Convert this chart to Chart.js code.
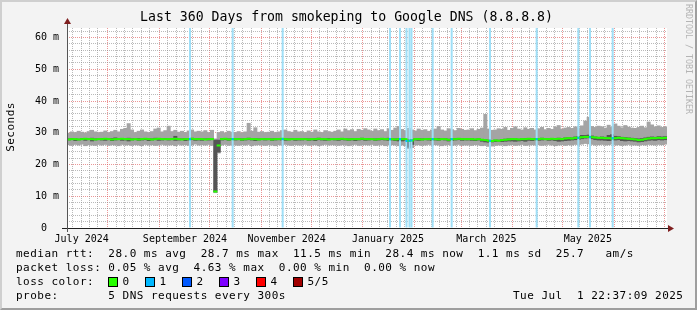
<!DOCTYPE html>
<html><head><meta charset="utf-8">
<script src="https://cdn.jsdelivr.net/npm/chart.js@4/dist/chart.umd.min.js"></script>
<style>
html,body{margin:0;padding:0;background:#f3f3f3;}
#wrap{position:relative;width:697px;height:310px;overflow:hidden;background:#f3f3f3;font-family:"DejaVu Sans Mono",monospace;color:#000;}
#c{position:absolute;left:0;top:0;}
#frame{position:absolute;left:0;top:0;width:697px;height:310px;box-sizing:border-box;border-top:2px solid #cfcfcf;border-left:2px solid #cfcfcf;border-right:2px solid #9e9e9e;border-bottom:2px solid #9e9e9e;pointer-events:none;}
.t{position:absolute;white-space:pre;font-size:11px;letter-spacing:0.48px;line-height:14px;}
#title{position:absolute;left:-2px;width:697px;top:9px;text-align:center;font-size:13.2px;white-space:pre;}
#ylab{position:absolute;left:-14px;top:120px;width:50px;text-align:center;transform:rotate(-90deg);transform-origin:50% 50%;}
#wm{position:absolute;left:684px;top:4px;writing-mode:vertical-rl;font-size:8.3px;color:#b4b4b4;white-space:pre;}
.sw{position:absolute;width:8px;height:8px;border:1px solid #000;box-sizing:content-box;}
</style></head>
<body>
<div id="wrap">
<canvas id="c" width="697" height="310"></canvas>
<div id="title">Last 360 Days from smokeping to Google DNS (8.8.8.8)</div>
<div id="ylab" class="t">Seconds</div>
<div id="wm">RRDTOOL / TOBI OETIKER</div>
<div class="t" style="left:16px;top:247px;">median rtt:  28.0 ms avg  28.7 ms max  11.5 ms min  28.4 ms now  1.1 ms sd  25.7   am/s</div>
<div class="t" style="left:16px;top:261px;">packet loss: 0.05 % avg  4.63 % max  0.00 % min  0.00 % now</div>
<div class="t" style="left:16px;top:275px;">loss color:</div>
<div id="lossLegend"></div>
<div class="t" style="left:16px;top:289px;">probe:       5 DNS requests every 300s</div>
<div class="t" style="left:513px;top:289px;">Tue Jul  1 22:37:09 2025</div>
<div id="frame"></div>
</div>
<script>
// ---- data ----
const STEP_DAYS = 2; // each sample covers two days, first sample starts at day 0
const median = [
27.9,28.0,28.0,27.9,28.0,28.1,28.0,28.0,27.9,28.0,
28.0,28.1,28.0,27.9,28.0,28.0,28.1,28.0,28.0,27.9,
28.0,27.9,28.0,28.1,28.0,27.9,28.0,28.1,28.0,28.0,
28.0,28.0,28.1,28.0,27.9,28.0,28.0,28.1,28.0,28.0,
28.0,27.9,28.0,28.0,11.5,26.0,28.0,28.1,27.9,28.0,
28.0,28.0,27.9,28.0,28.1,28.0,28.0,27.9,28.0,28.0,
28.0,27.9,28.0,28.0,28.1,28.0,27.9,28.0,28.0,28.0,
28.0,28.0,27.9,28.0,28.0,28.1,28.0,28.0,27.9,28.0,
28.0,28.0,28.1,28.0,27.9,28.0,28.0,28.0,28.1,28.0,
28.0,28.0,27.9,28.0,28.1,28.0,28.0,28.0,27.9,28.0,
28.0,28.0,27.5,27.6,28.0,28.0,27.9,28.0,28.0,28.0,
28.0,27.9,28.0,28.0,27.8,28.0,28.0,28.1,28.0,28.0,
28.0,28.0,27.9,28.0,27.8,27.7,27.5,27.4,27.6,27.5,
27.7,27.8,27.9,28.0,28.0,27.9,28.0,28.0,28.1,28.0,
28.0,28.0,28.1,28.0,28.0,28.1,28.0,28.1,28.0,28.2,
28.3,28.2,28.4,28.4,28.6,28.7,28.7,28.6,28.5,28.4,
28.4,28.3,28.3,28.2,28.3,28.4,28.3,28.2,28.1,28.0,
27.9,27.7,27.8,28.0,28.2,28.3,28.3,28.4,28.3,28.4];
const pingMax = [
30.0,30.4,30.2,30.6,30.3,30.1,30.5,30.9,30.4,30.2,
30.3,30.7,30.2,30.5,30.9,30.4,31.2,31.5,33.0,31.0,
30.2,30.6,31.0,30.4,30.2,30.5,31.3,31.6,30.4,30.8,
32.2,30.5,30.9,30.3,30.6,30.2,30.7,31.0,30.4,30.6,
30.4,30.8,30.2,30.9,28.2,30.2,30.5,30.1,30.6,30.3,
30.2,30.5,30.1,30.4,33.1,30.6,31.7,30.3,30.5,30.2,
30.3,30.6,30.2,30.4,30.8,31.0,30.5,30.3,30.9,30.4,
30.5,30.2,30.7,30.3,31.0,30.4,30.2,30.8,30.5,30.3,
30.6,31.0,30.4,31.3,30.8,31.1,30.5,31.2,30.9,31.4,
31.0,30.6,31.3,30.8,31.1,30.5,31.4,30.9,31.6,32.1,
31.2,30.8,31.5,31.0,30.7,31.3,30.9,31.1,30.6,31.0,
31.3,32.1,31.0,30.7,31.4,31.1,30.8,31.5,31.2,30.9,
31.0,31.4,30.8,31.2,31.6,35.9,31.3,30.9,31.0,31.4,
31.2,31.8,30.9,31.5,32.0,31.3,31.0,31.7,31.2,31.5,
31.0,31.4,31.8,31.1,31.5,31.2,31.9,32.4,31.3,31.6,
31.8,31.5,32.0,31.7,32.3,33.8,35.0,32.1,31.8,32.2,
32.0,31.6,32.5,31.8,32.9,32.2,31.7,32.4,31.9,31.6,
31.5,31.8,32.2,31.7,33.5,32.6,32.0,32.3,31.8,32.0];
const pingMin = [
26.1,25.9,26.2,26.0,26.3,25.8,26.1,26.0,25.9,26.2,
26.0,26.2,25.9,26.1,26.0,25.8,26.2,26.0,26.1,25.9,
26.1,26.0,25.8,26.2,26.0,26.1,25.9,26.0,26.2,26.0,
26.0,26.1,25.8,26.2,26.0,26.1,25.9,26.0,26.3,26.0,
26.1,26.0,26.2,25.9,11.0,23.5,26.0,26.2,25.9,26.1,
26.0,25.9,26.1,26.0,26.2,25.8,26.0,26.1,26.0,25.9,
26.1,26.0,25.8,26.1,26.0,26.2,26.0,25.9,26.1,26.0,
26.0,26.2,25.9,26.0,26.1,25.8,26.0,26.2,26.0,26.1,
26.0,25.9,26.1,26.0,25.8,26.0,26.2,25.9,26.0,26.1,
26.0,26.2,25.9,26.0,26.1,25.8,26.0,26.1,26.0,25.8,
26.0,25.8,24.9,25.2,26.0,26.1,25.9,26.0,26.2,26.0,
26.1,26.0,25.8,26.0,26.1,25.9,26.0,26.2,25.9,26.0,
26.0,25.9,26.1,26.0,25.8,25.9,25.6,25.7,25.9,26.0,
26.0,25.8,26.0,26.1,25.9,26.0,26.2,25.9,26.0,26.1,
26.0,26.1,25.9,26.0,26.2,26.0,25.8,26.0,26.1,25.9,
26.1,26.0,26.2,26.1,26.3,26.5,26.4,26.2,26.0,26.1,
26.2,26.0,26.1,26.3,26.0,26.1,25.9,26.0,26.2,26.0,
26.0,25.9,26.1,26.0,26.2,26.1,26.0,26.2,26.1,26.3];
const pingLow = [
27.6,27.7,27.4,27.6,27.7,27.5,27.7,27.3,27.6,27.7,
27.6,27.5,27.7,27.4,27.6,27.7,27.5,27.6,27.3,27.6,
27.7,27.5,27.6,27.7,27.4,27.6,27.7,27.5,27.6,27.7,
27.6,27.7,27.5,27.6,27.7,27.4,27.6,27.7,27.5,27.6,
27.5,27.7,27.6,27.7,11.3,23.8,27.6,27.7,27.5,27.7,
27.6,27.7,27.5,27.6,27.7,27.6,27.4,27.6,27.7,27.6,
27.7,27.5,27.6,27.7,27.6,27.5,27.6,27.7,27.5,27.6,
27.6,27.7,27.5,27.6,27.4,27.7,27.6,27.5,27.6,27.7,
27.6,27.5,27.7,27.6,27.5,27.6,27.4,27.6,27.7,27.5,
27.6,27.7,27.5,27.6,27.7,27.6,27.5,27.6,27.4,27.3,
27.3,27.5,25.3,26.2,27.6,27.5,27.6,27.7,27.6,27.5,
27.6,27.5,27.7,27.6,27.3,27.5,27.6,27.7,27.5,27.6,
27.6,27.5,27.4,27.6,27.2,27.0,26.9,27.0,27.1,27.2,
27.1,27.2,27.3,27.3,27.2,27.3,27.4,27.2,27.5,27.4,
27.6,27.5,27.6,27.7,27.5,27.6,27.4,27.2,27.3,27.4,
27.5,27.6,27.7,27.8,28.0,28.2,28.3,28.0,27.7,27.6,
27.6,27.5,27.4,27.5,27.6,27.7,27.4,27.3,27.4,27.3,
27.2,27.0,27.1,27.3,27.5,27.6,27.5,27.7,27.6,27.7];
const pingHigh = [
28.2,28.3,28.2,28.1,28.3,28.3,28.2,28.4,28.2,28.2,
28.3,28.2,28.2,28.3,28.5,28.2,28.3,28.2,28.4,28.2,
28.2,28.3,28.2,28.3,28.2,28.2,28.4,28.3,28.2,28.3,
28.2,28.3,29.0,28.2,28.2,28.3,28.2,28.4,28.2,28.3,
28.2,28.2,28.3,28.2,27.8,27.8,28.3,28.2,28.2,28.3,
28.2,28.3,28.2,28.2,28.4,28.2,28.3,28.2,28.2,28.3,
28.2,28.2,28.3,28.2,28.3,28.2,28.2,28.3,28.2,28.2,
28.2,28.3,28.2,28.2,28.3,28.4,28.2,28.2,28.3,28.2,
28.2,28.3,28.3,28.2,28.2,28.3,28.2,28.2,28.4,28.2,
28.3,28.2,28.2,28.3,28.2,28.2,28.4,28.2,28.2,28.3,
28.2,28.3,28.1,28.0,28.2,28.3,28.2,28.2,28.3,28.2,
28.2,28.3,28.2,28.3,28.1,28.2,28.3,28.3,28.2,28.2,
28.2,28.2,28.1,28.2,28.0,27.9,27.8,27.7,27.8,27.8,
28.0,28.1,28.2,28.2,28.2,28.1,28.2,28.3,28.3,28.2,
28.3,28.2,28.4,28.2,28.2,28.3,28.3,28.4,28.3,28.5,
28.6,28.5,28.8,29.0,29.3,29.3,29.4,29.1,28.8,28.7,
28.8,28.7,29.3,29.5,29.0,28.9,28.7,28.6,28.5,28.4,
28.3,28.2,28.3,28.5,28.7,28.8,28.7,28.9,28.8,28.9];
// days (since graph start) with packet loss, their loss level and median there
const lossDays   = [73.8, 99.4, 129.4, 193.8, 199.8, 203.7, 205.5, 206.7, 219.4, 230.8, 253.8, 281.8, 306.8, 313.8, 327.4];
const lossLevel  = [1,1,1,1,1,1,1,1,1,1,1,1,1,1,1];
const lossMedian = [28.0, 28.0, 28.0, 28.0, 28.0, 27.4, 27.5, 27.6, 28.0, 28.0, 27.5, 28.0, 28.4, 28.6, 28.3];
// axis ticks
const monthLabels = ['July 2024','September 2024','November 2024','January 2025','March 2025','May 2025'];
const labelDays   = [8.8, 70.8, 131.8, 192.6, 251.6, 312.5];
const monthStartDays = [24.4, 55.4, 85.4, 116.4, 146.4, 177.4, 208.4, 236.4, 267.4, 297.4, 328.4, 358.4];
const yTicks  = [0,10,20,30,40,50,60];
const yLabels = ['0  ','10 m','20 m','30 m','40 m','50 m','60 m'];
const lossNames  = ['0','1','2','3','4','5/5'];
const lossColors = ['#26ff00','#00b8ff','#0059ff','#7e00ff','#ff0000','#a10000'];
const lossBgColors = ['#c8ffc0','#9fdff7','#99bcff','#cba6ff','#ff9a9a','#dc9a9a'];

// ---- build ----
const X_MAX = 360, Y_MAX = 63;
const LINE_HALF = 0.32;
const center = i => i*STEP_DAYS + STEP_DAYS/2;
const outer = pingMin.map((v,i)=>({x:center(i), y:[v, pingMax[i]]}));
const inner = pingLow.map((v,i)=>({x:center(i), y:[v, pingHigh[i]]}));
const med   = median.map((v,i)=>({x:center(i), y:[v-LINE_HALF, v+LINE_HALF]}));
const lossBg = lossDays.map(d=>({x:d, y:[0, Y_MAX]}));
const lossMk = lossDays.map((d,i)=>({x:d, y:[lossMedian[i]-LINE_HALF, lossMedian[i]+LINE_HALF]}));
const minorDays = [];
monthStartDays.concat([-6.6]).forEach(m=>{ for(let k=1;k<=5;k++){ const d=m+5*k; if(d>0&&d<X_MAX) minorDays.push(d);} });
const yMinorTicks = [];
for (let v=2; v<Y_MAX; v+=2) if (v%10) yMinorTicks.push(v);

const monoFont = {family:'DejaVu Sans Mono', size:10};
const gridScale = (pos, ticks, color) => ({
  type:'linear', min:0, max: pos==='bottom'?X_MAX:Y_MAX, position:pos, offset:false,
  afterBuildTicks: s => { s.ticks = ticks.map(v=>({value:v})); },
  ticks:{display:false},
  grid:{color, lineWidth:1, drawTicks:false, offset:false},
  border:{display:false, dash:[1,1]},
  afterFit: s => { if(pos==='bottom') s.height=0; else s.width=0; }
});

const decor = {
  id:'decor',
  beforeDraw(chart){
    const {ctx, chartArea:a} = chart;
    ctx.save();
    ctx.fillStyle='#f3f3f3'; ctx.fillRect(0,0,chart.width,chart.height);
    ctx.fillStyle='#ffffff'; ctx.fillRect(a.left,a.top,a.right-a.left,a.bottom-a.top);
    ctx.restore();
  },
  afterDraw(chart){
    const {ctx, chartArea:a} = chart;
    const y0 = Math.round(chart.scales.y.getPixelForValue(0));
    const x0 = Math.round(a.left);
    ctx.save();
    ctx.fillStyle='#1f1f1f';
    ctx.fillRect(x0-5, y0, a.right - x0 + 7, 1);
    ctx.fillStyle='#555555';
    ctx.fillRect(x0, a.top-4, 1, y0 - a.top + 8);
    ctx.fillStyle='#7f1f1f';
    ctx.beginPath(); ctx.moveTo(a.right+1, y0-3); ctx.lineTo(a.right+7, y0+0.5); ctx.lineTo(a.right+1, y0+4); ctx.closePath(); ctx.fill();
    ctx.beginPath(); ctx.moveTo(x0-3, a.top-4); ctx.lineTo(x0+0.5, a.top-10); ctx.lineTo(x0+4, a.top-4); ctx.closePath(); ctx.fill();
    ctx.restore();
  }
};

const ds = (label, data, color, thick, order) => ({label, data, backgroundColor:color, barThickness:thick, grouped:false, order, xAxisID:'x', yAxisID:'y', borderWidth:0, inflateAmount:0});

new Chart(document.getElementById('c'), {
  type:'bar',
  data:{datasets:[
    ds('loss marker', lossMk, lossLevel.map(l=>lossColors[l]), 2, 1),
    ds('median rtt', med, lossColors[0], 4, 2),
    ds('loss', lossBg, lossLevel.map(l=>lossBgColors[l]), 2, 3),
    ds('smoke inner', inner, '#555555', 4, 4),
    ds('smoke outer', outer, '#a4a4a4', 4, 5)
  ]},
  options:{
    responsive:false, animation:false, devicePixelRatio:1,
    layout:{padding:{left:0, top:28, right:30, bottom:62}},
    plugins:{legend:{display:false}, tooltip:{enabled:false}, title:{display:false}},
    scales:{
      x:{type:'linear', min:0, max:X_MAX, position:'bottom', offset:false,
         afterBuildTicks: s => { s.ticks = labelDays.map(v=>({value:v})); },
         ticks:{autoSkip:false, maxRotation:0, padding:5, font:monoFont, color:'#000', callback:(v,i)=>monthLabels[i]},
         grid:{display:false, drawTicks:false, offset:false}, border:{display:false},
         afterFit: s => { s.height = 20; }},
      y:{type:'linear', min:0, max:Y_MAX, position:'left',
         afterBuildTicks: s => { s.ticks = yTicks.map(v=>({value:v})); },
         ticks:{padding:8, font:monoFont, color:'#000', callback:(v,i)=>yLabels[i]},
         grid:{color:'rgba(222,79,79,0.6)', drawTicks:false}, border:{display:false, dash:[1,1]},
         afterFit: s => { s.width = 67; }},
      xMinor: gridScale('bottom', minorDays, 'rgba(140,140,140,0.6)'),
      xMajor: gridScale('bottom', monthStartDays, 'rgba(222,79,79,0.6)'),
      yMinor: gridScale('left', yMinorTicks, 'rgba(140,140,140,0.6)')
    }
  },
  plugins:[decor]
});

// loss colour legend
const boxLeft = [108, 145, 182, 219, 256, 293];
const ll = document.getElementById('lossLegend');
lossNames.forEach((n,i)=>{
  const b = document.createElement('div'); b.className='sw';
  b.style.left = boxLeft[i]+'px'; b.style.top='277px'; b.style.background=lossColors[i];
  ll.appendChild(b);
  const t = document.createElement('div'); t.className='t';
  t.style.left=(boxLeft[i]+14.5)+'px'; t.style.top='275px'; t.textContent=n;
  ll.appendChild(t);
});
</script>
</body></html>
